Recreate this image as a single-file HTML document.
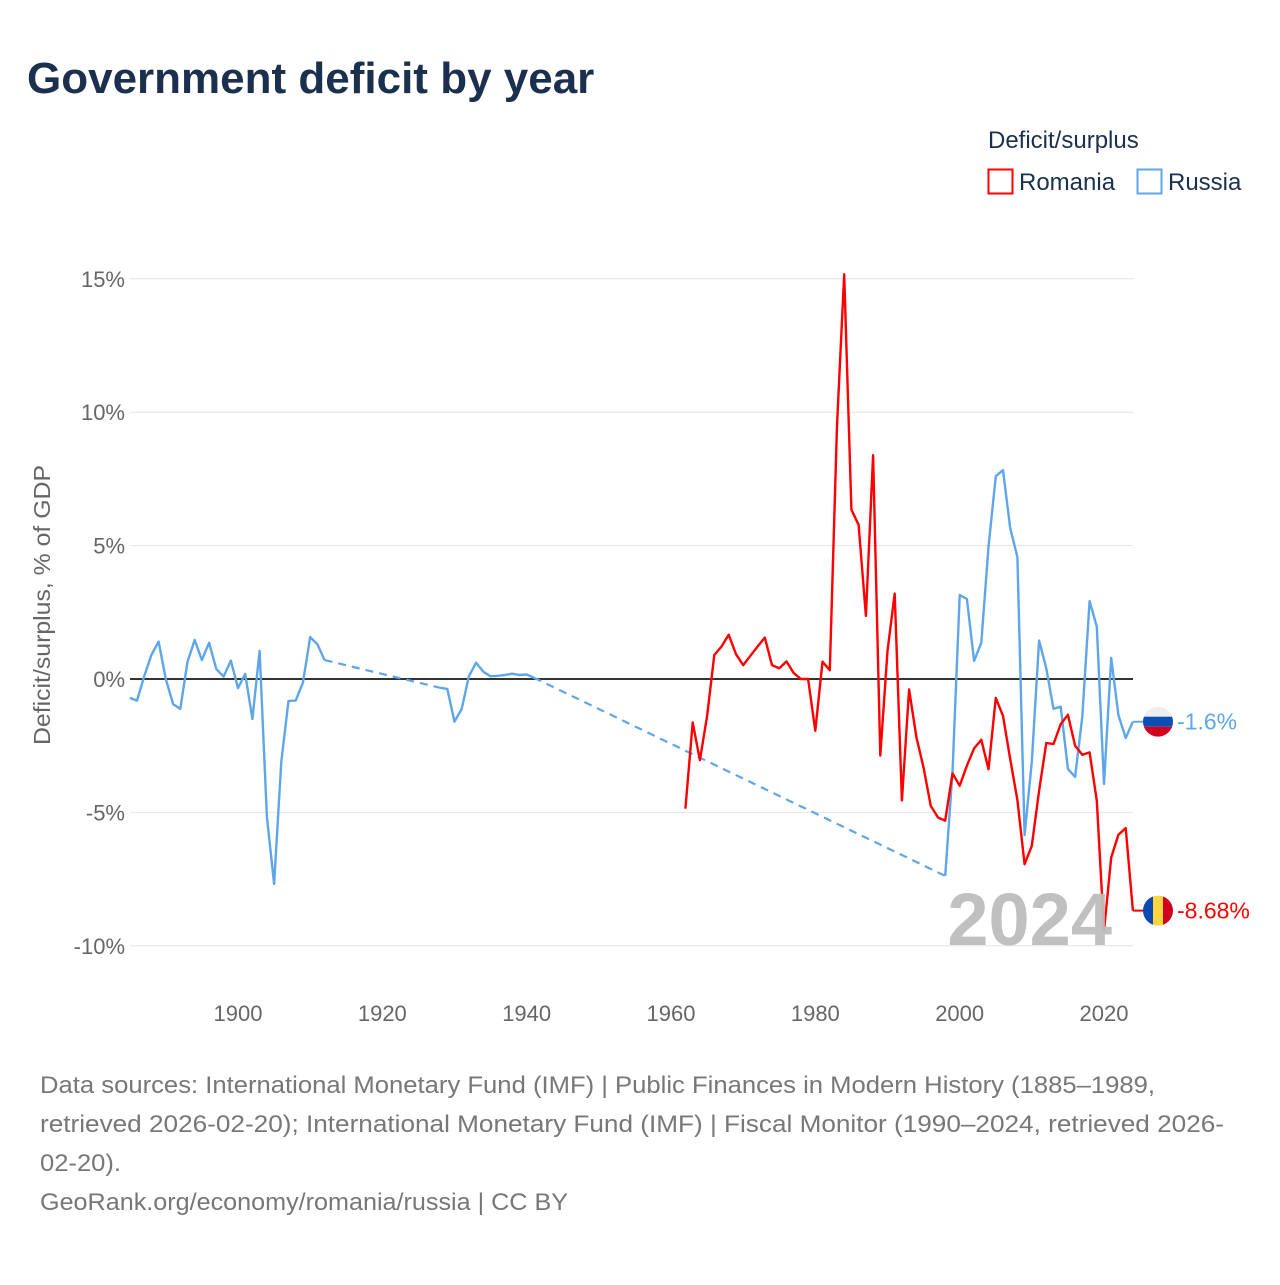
<!DOCTYPE html>
<html><head><meta charset="utf-8">
<style>
body{margin:0;background:#fff;font-family:"Liberation Sans",sans-serif;}
svg text{font-family:"Liberation Sans",sans-serif;}
</style></head>
<body>
<svg id="chart" width="1280" height="1280" viewBox="0 0 1280 1280" xmlns="http://www.w3.org/2000/svg">
<text x="27" y="93" font-size="44" font-weight="bold" fill="#1b2f4e">Government deficit by year</text>
<text x="988" y="148" font-size="24" fill="#1b2f4e">Deficit/surplus</text>
<g>
<rect x="988.5" y="169.5" width="24" height="24" fill="none" stroke="#ff0000" stroke-width="2"/>
<text x="1019" y="190" font-size="24" fill="#1b2f4e">Romania</text></g>
<g>
<rect x="1137.5" y="169.5" width="24" height="24" fill="none" stroke="#5ea6ea" stroke-width="2"/>
<text x="1168" y="190" font-size="24" fill="#1b2f4e">Russia</text></g>
<text transform="translate(50,605) rotate(-90)" text-anchor="middle" font-size="23" fill="#666" textLength="280" lengthAdjust="spacingAndGlyphs">Deficit/surplus, % of GDP</text>
<g id="grid"></g>
<g id="series"></g>
<text x="1112" y="945" text-anchor="end" font-size="74" font-weight="bold" fill="#bdbdbd" opacity="0.95">2024</text>
<g id="ends"></g>
<g font-size="24" fill="#777">
<text x="40" y="1093" textLength="1115" lengthAdjust="spacingAndGlyphs">Data sources: International Monetary Fund (IMF) | Public Finances in Modern History (1885–1989,</text>
<text x="40" y="1132" textLength="1184" lengthAdjust="spacingAndGlyphs">retrieved 2026-02-20); International Monetary Fund (IMF) | Fiscal Monitor (1990–2024, retrieved 2026-</text>
<text x="40" y="1171" textLength="81" lengthAdjust="spacingAndGlyphs">02-20).</text>
<text x="40" y="1210" textLength="528" lengthAdjust="spacingAndGlyphs">GeoRank.org/economy/romania/russia | CC BY</text>
</g>
</svg>
<script>
const yTicks=[15,10,5,0,-5,-10];
const xTicks=[1900,1920,1940,1960,1980,2000,2020];
const russiaYears=[1885,1886,1887,1888,1889,1890,1891,1892,1893,1894,1895,1896,1897,1898,1899,1900,1901,1902,1903,1904,1905,1906,1907,1908,1909,1910,1911,1912,1928,1929,1930,1931,1932,1933,1934,1935,1936,1937,1938,1939,1940,1941,1998,1999,2000,2001,2002,2003,2004,2005,2006,2007,2008,2009,2010,2011,2012,2013,2014,2015,2016,2017,2018,2019,2020,2021,2022,2023,2024];
const russiaValues=[-0.71,-0.81,0.1,0.9,1.4,0.0,-0.94,-1.12,0.65,1.46,0.71,1.36,0.37,0.09,0.69,-0.34,0.19,-1.5,1.05,-5.16,-7.68,-3.1,-0.82,-0.81,-0.14,1.57,1.3,0.71,-0.33,-0.37,-1.6,-1.12,0.1,0.61,0.27,0.1,0.12,0.15,0.2,0.15,0.17,0.05,-7.38,-3.5,3.15,3.0,0.68,1.36,4.96,7.6,7.83,5.66,4.57,-5.85,-3.1,1.44,0.4,-1.12,-1.04,-3.37,-3.67,-1.41,2.92,1.96,-3.93,0.79,-1.35,-2.21,-1.6];
const romaniaYears=[1962,1963,1964,1965,1966,1967,1968,1969,1970,1971,1972,1973,1974,1975,1976,1977,1978,1979,1980,1981,1982,1983,1984,1985,1986,1987,1988,1989,1990,1991,1992,1993,1994,1995,1996,1997,1998,1999,2000,2001,2002,2003,2004,2005,2006,2007,2008,2009,2010,2011,2012,2013,2014,2015,2016,2017,2018,2019,2020,2021,2022,2023,2024];
const romaniaValues=[-4.86,-1.63,-3.04,-1.39,0.9,1.22,1.66,0.93,0.52,0.87,1.22,1.55,0.52,0.4,0.66,0.22,0.0,0.0,-1.94,0.65,0.33,9.5,15.17,6.35,5.78,2.37,8.39,-2.87,1.05,3.2,-4.55,-0.39,-2.18,-3.33,-4.76,-5.19,-5.31,-3.54,-4.0,-3.25,-2.6,-2.28,-3.38,-0.71,-1.38,-3.0,-4.54,-6.94,-6.25,-4.19,-2.4,-2.44,-1.69,-1.34,-2.5,-2.84,-2.75,-4.56,-9.44,-6.69,-5.84,-5.59,-8.68];

const X=y=>238+(y-1900)*(866/120);
const Y=v=>679-v*26.68;
const NS="http://www.w3.org/2000/svg";
function mk(tag,attrs,parent){const e=document.createElementNS(NS,tag);for(const k in attrs)e.setAttribute(k,attrs[k]);parent.appendChild(e);return e;}
const grid=document.getElementById('grid');
yTicks.forEach(t=>{
  if(t!==0){const l=mk('line',{x1:130,x2:1133,y1:Y(t),y2:Y(t),stroke:'#e4e4e4','stroke-width':1},grid);
  
  }
  const tx=mk('text',{x:125,y:Y(t)+8,'text-anchor':'end','font-size':22,fill:'#666'},grid);
  tx.textContent=(t<0?'-':'')+Math.abs(t)+'%';
  
  
});
xTicks.forEach(t=>{
  const tx=mk('text',{x:X(t),y:1021,'text-anchor':'middle','font-size':22,fill:'#666'},grid);
  tx.textContent=t;
  
  
});
const zl=mk('line',{x1:130,x2:1133,y1:Y(0),y2:Y(0),stroke:'#333','stroke-width':2},grid);



const sg=document.getElementById('series');
function draw(years,vals,color,name){
  let solid='';let dashed='';
  for(let i=0;i<years.length;i++){
    const p=X(years[i]).toFixed(1)+','+Y(vals[i]).toFixed(1);
    if(i===0||years[i]-years[i-1]>1){
      if(i>0)dashed+='M'+X(years[i-1]).toFixed(1)+','+Y(vals[i-1]).toFixed(1)+'L'+p;
      solid+='M'+p;
    } else solid+='L'+p;
  }
  if(dashed){const d=mk('path',{d:dashed,fill:'none',stroke:color,'stroke-width':2.2,'stroke-dasharray':'8,6'},sg);
  
  }
  const s=mk('path',{d:solid,fill:'none',stroke:color,'stroke-width':2.4,'stroke-linejoin':'round'},sg);
  
  
}
draw(russiaYears,russiaValues,'#5ea6ea','russia');
draw(romaniaYears,romaniaValues,'#ff0000','romania');

const ends=document.getElementById('ends');
function endLabel(years,vals,color,name,flag){
  const lx=X(years[years.length-1]),ly=Y(vals[vals.length-1]);
  const cx=1158;
  const c=mk('line',{x1:lx,y1:ly,x2:cx,y2:ly,stroke:color,'stroke-width':2},ends);
  
  
  const g=mk('g',{},ends);
  
  
  const id='clip'+name;
  const cp=mk('clipPath',{id:id},g);mk('circle',{cx:cx,cy:ly,r:15},cp);
  const gg=mk('g',{'clip-path':'url(#'+id+')'},g);
  if(flag==='ru'){
    mk('rect',{x:cx-15,y:ly-15,width:30,height:10,fill:'#eeeeee'},gg);
    mk('rect',{x:cx-15,y:ly-5,width:30,height:10,fill:'#0c4fb3'},gg);
    mk('rect',{x:cx-15,y:ly+5,width:30,height:10,fill:'#d0001f'},gg);
  } else {
    mk('rect',{x:cx-15,y:ly-15,width:10,height:30,fill:'#0b4ab0'},gg);
    mk('rect',{x:cx-5,y:ly-15,width:10,height:30,fill:'#fcd53f'},gg);
    mk('rect',{x:cx+5,y:ly-15,width:10,height:30,fill:'#d0001f'},gg);
  }
  const t=mk('text',{x:1177,y:ly+8,'font-size':23,fill:color},ends);
  t.textContent=(vals[vals.length-1]<0?'-':'')+Math.abs(vals[vals.length-1])+'%';
  
  
}
endLabel(russiaYears,russiaValues,'#5ea6ea','russia','ru');
endLabel(romaniaYears,romaniaValues,'#ff0000','romania','ro');
</script>
</body></html>
